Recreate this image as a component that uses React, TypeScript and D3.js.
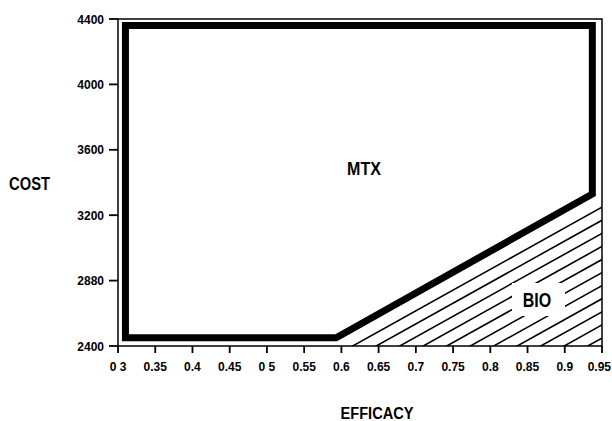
import React, { useRef, useEffect } from 'react';
import * as d3 from 'd3';

// eje x (eficacia) y eje y (costo)
const xTicks = [0.3, 0.35, 0.4, 0.45, 0.5, 0.55, 0.6, 0.65, 0.7, 0.75, 0.8, 0.85, 0.9, 0.95];
const xTickLabels = ['0 3', '0.35', '0.4', '0.45', '0 5', '0.55', '0.6', '0.65', '0.7', '0.75', '0.8', '0.85', '0.9', '0.95'];
const yTicks = [2400, 2800, 3200, 3600, 4000, 4400];
const yTickLabels = ['2400', '2880', '3200', '3600', '4000', '4400'];

// frontera de la region MTX (linea gruesa)
const mtxEfficacy = [0.31, 0.31, 0.593, 0.937, 0.937];
const mtxCost = [4360, 2450, 2450, 3330, 4360];

// region BIO rayada
const bioEfficacy = [0.603, 0.95, 0.95];
const bioCost = [2400, 3280, 2400];

const W = 612;
const H = 421;
const FONT = "'Liberation Sans', Arial, sans-serif";

const App: React.FC = () => {
  const svgRef = useRef<SVGSVGElement | null>(null);

  useEffect(() => {
    if (!svgRef.current) return;
    const svg = d3.select<SVGSVGElement, unknown>(svgRef.current);
    svg.selectAll('*').remove();

    const x = d3.scaleLinear().domain([0.3, 0.95]).range([118, 602]);
    const y = d3.scaleLinear().domain([2400, 4400]).range([346, 19]);

    const linea = d3.line<[number, number]>().x((d) => x(d[0])).y((d) => y(d[1]));

    // zona BIO con rayado
    const bioPts: [number, number][] = bioEfficacy.map((e, i) => [e, bioCost[i]]);
    svg.append('clipPath').attr('id', 'bioClip')
      .append('path').attr('d', linea(bioPts) + 'Z');

    const x0 = x(bioPts[0][0]);
    const x1 = x(bioPts[1][0]);
    const slope = (y(bioPts[0][1]) - y(bioPts[1][1])) / (x1 - x0);
    const rayas = svg.append('g').attr('clip-path', 'url(#bioClip)');
    d3.range(x0 - 300, x1 + 20, 23.5).forEach((sx) => {
      rayas.append('line')
        .attr('x1', sx).attr('y1', y(2400) + 2)
        .attr('x2', sx + 400).attr('y2', y(2400) + 2 - 400 * slope)
        .attr('stroke', '#000').attr('stroke-width', 1.6);
    });

    // caja blanca para BIO
    svg.append('rect').attr('x', 512).attr('y', 283).attr('width', 53).attr('height', 33).attr('fill', '#fff');

    // marco
    svg.append('path')
      .attr('d', `M${x(0.3)},${y(2400)}V${y(4400)}H${x(0.95)}V${y(2400)}H${x(0.3)}`)
      .attr('fill', 'none').attr('stroke', '#000').attr('stroke-width', 1.5);

    // ticks y
    yTicks.forEach((t, i) => {
      svg.append('line').attr('x1', x(0.3) - 9).attr('x2', x(0.3)).attr('y1', y(t)).attr('y2', y(t))
        .attr('stroke', '#000').attr('stroke-width', 1.8);
      svg.append('text').attr('x', 104).attr('y', y(t) + 4.5)
        .attr('text-anchor', 'end')
        .style('font-family', FONT).style('font-weight', 'bold').style('font-size', '12px')
        .text(yTickLabels[i]);
    });

    // ticks x
    xTicks.forEach((t, i) => {
      svg.append('line').attr('x1', x(t)).attr('x2', x(t)).attr('y1', y(2400)).attr('y2', y(2400) + 7)
        .attr('stroke', '#000').attr('stroke-width', 1.8);
      const ultimo = i === xTicks.length - 1;
      svg.append('text').attr('x', ultimo ? W - 1 : x(t)).attr('y', 371)
        .attr('text-anchor', ultimo ? 'end' : 'middle')
        .style('font-family', FONT).style('font-weight', 'bold').style('font-size', '12px')
        .text(xTickLabels[i]);
    });

    // frontera MTX
    const mtxPts: [number, number][] = mtxEfficacy.map((e, i) => [e, mtxCost[i]]);
    svg.append('path').attr('d', linea(mtxPts) + 'Z')
      .attr('fill', 'none').attr('stroke', '#000').attr('stroke-width', 7)
      .attr('stroke-linejoin', 'miter');

    // etiquetas condensadas
    const etiqueta = (cx: number, by: number, size: number, sx: number, txt: string) =>
      svg.append('g').attr('transform', `translate(${cx},${by}) scale(${sx},1)`)
        .append('text').attr('text-anchor', 'middle')
        .style('font-family', FONT).style('font-weight', 'bold').style('font-size', `${size}px`)
        .text(txt);

    etiqueta(364, 175, 18, 0.89, 'MTX');
    etiqueta(537, 307, 20, 0.8, 'BIO');
    etiqueta(29.5, 190, 18, 0.82, 'COST');
    etiqueta(377, 419, 17, 0.86, 'EFFICACY');
  }, []);

  return (
    <svg ref={svgRef} width={W} height={H}
      style={{ position: 'absolute', left: 0, top: 0, background: '#fff' }} />
  );
};

export default App;
